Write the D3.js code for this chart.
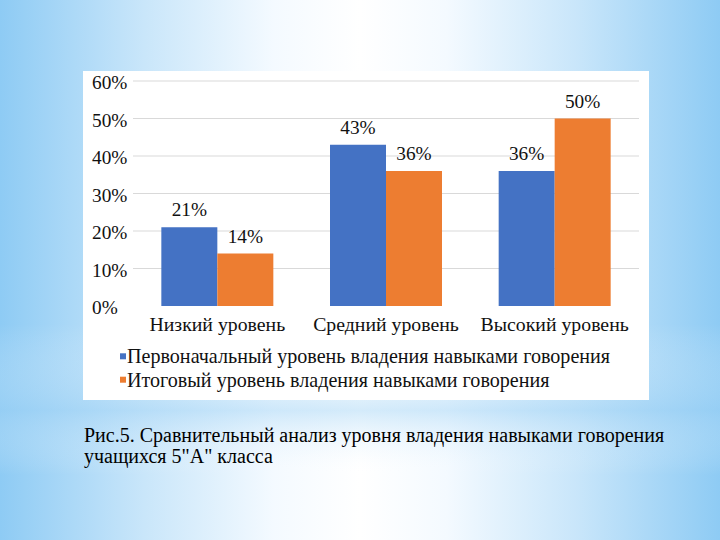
<!DOCTYPE html>
<html><head><meta charset="utf-8">
<script src="https://cdn.jsdelivr.net/npm/d3@7"></script>
<style>html,body{margin:0;padding:0;overflow:hidden;}</style>
</head><body>
<svg id="c" width="720" height="540"></svg>
<script>
const categories = ["Низкий уровень", "Средний уровень", "Высокий уровень"];
const seriesNames = ["Первоначальный уровень владения навыками говорения", "Итоговый уровень владения навыками говорения"];
const initialValues = [0.21, 0.43, 0.36];
const finalValues = [0.14, 0.36, 0.50];
const yTicks = [0, 0.1, 0.2, 0.3, 0.4, 0.5, 0.6];
const captionLines = ["Рис.5. Сравнительный анализ уровня владения навыками говорения", "учащихся 5\"А\" класса"];
const colors = ["#4472C4", "#ED7D31"];

const svg = d3.select("#c");
const defs = svg.append("defs");
const hg = defs.append("linearGradient").attr("id","hg").attr("x1","0").attr("x2","1").attr("y1","0").attr("y2","0");
[[0,"#8ecbf4"],[0.2,"#c9e6fa"],[0.38,"#f4faff"],[0.5,"#ffffff"],[0.62,"#f4faff"],[0.8,"#c9e6fa"],[1,"#8ecbf4"]].forEach(s=>hg.append("stop").attr("offset",s[0]).attr("stop-color",s[1]));
const vg = defs.append("linearGradient").attr("id","vg").attr("x1","0").attr("x2","0").attr("y1","0").attr("y2","1");
[[0,"#ffffff",0],[0.6,"#ffffff",0],[0.76,"#9fd2f5",0.45],[0.88,"#ffffff",0],[1,"#ffffff",0]].forEach(s=>vg.append("stop").attr("offset",s[0]).attr("stop-color",s[1]).attr("stop-opacity",s[2]));
svg.append("rect").attr("width",720).attr("height",540).attr("fill","url(#hg)");
svg.append("rect").attr("width",720).attr("height",540).attr("fill","url(#vg)");

// chart panel
svg.append("rect").attr("x",83).attr("y",71).attr("width",566).attr("height",329).attr("fill","#ffffff");

const x0 = d3.scaleBand().domain(categories).range([133,639]).paddingInner(0.336).paddingOuter(0.168);
const x1 = d3.scaleBand().domain([0,1]).range([0,x0.bandwidth()]);
const y = d3.scaleLinear().domain([0,0.6]).range([306,81]);
const fmt = d3.format(".0%");
const font = "\"Liberation Serif\"";
const txt = "#111111";

function T(sel){ return sel.style("font-family", font).attr("fill", txt); }

const gy = svg.append("g");
yTicks.forEach(t=>{
  if (t>0) gy.append("line").attr("x1",133).attr("x2",639).attr("y1",y(t)).attr("y2",y(t)).attr("stroke","#d9d9d9").attr("stroke-width",1);
  T(gy.append("text")).attr("x",92).attr("y",y(t)+8.3).style("font-size","19.3px").text(fmt(t));
});

const data = categories.map((c,i)=>({c, v:[initialValues[i], finalValues[i]]}));
const g = svg.selectAll(".grp").data(data).join("g").attr("class","grp").attr("transform",d=>`translate(${x0(d.c)},0)`);
g.selectAll("rect").data(d=>d.v.map((v,k)=>({v,k}))).join("rect")
  .attr("x",d=>x1(d.k)).attr("width",x1.bandwidth())
  .attr("y",d=>y(d.v)).attr("height",d=>y(0)-y(d.v)).attr("fill",d=>colors[d.k]);
T(g.selectAll("text.lab").data(d=>d.v.map((v,k)=>({v,k}))).join("text").attr("class","lab"))
  .attr("x",d=>x1(d.k)+x1.bandwidth()/2).attr("y",d=>y(d.v)-11)
  .attr("text-anchor","middle").style("font-size","19.3px").text(d=>fmt(d.v));

// category labels
T(svg.selectAll("text.cat").data(categories).join("text").attr("class","cat"))
  .attr("x",d=>x0(d)+x0.bandwidth()/2).attr("y",331).attr("text-anchor","middle")
  .style("font-size","19.8px").text(d=>d);

// legend
seriesNames.forEach((s,i)=>{
  const yy = 363.3 + i*23.4;
  svg.append("rect").attr("x",120).attr("y",yy-10).attr("width",6).attr("height",6).attr("fill",colors[i]);
  T(svg.append("text")).attr("x",127).attr("y",yy).style("font-size","20.1px").text(s);
});

// caption
captionLines.forEach((l,i)=>{
  svg.append("text").attr("x",84).attr("y",441.5+i*21).style("font-family",font).style("font-size","20px").attr("fill","#000").text(l);
});
</script>
</body></html>
